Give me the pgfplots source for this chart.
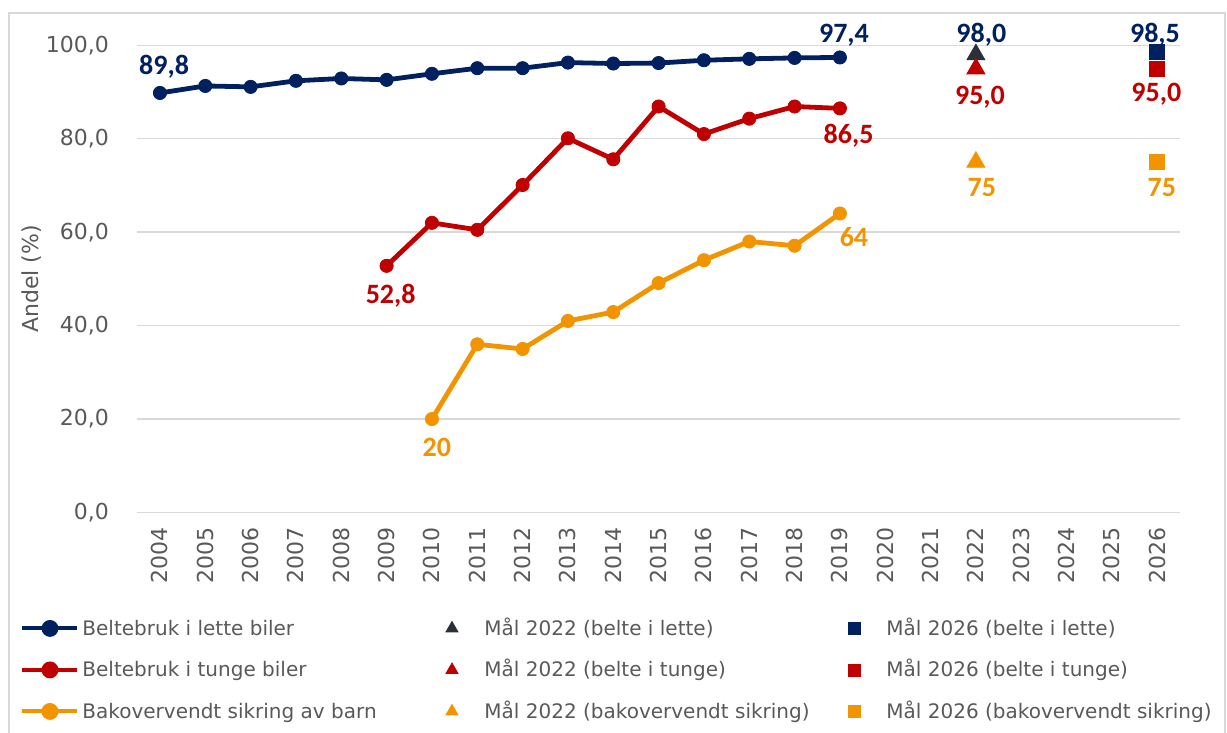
\documentclass[border=0pt]{standalone}
\usepackage{fontspec}
\setmainfont{DejaVu Sans}
\newfontfamily\lblfont{Carlito}
\usepackage{pgfplots}
\pgfplotsset{compat=1.18}
\definecolor{cnavy}{HTML}{002060}
\definecolor{cred}{HTML}{C00000}
\definecolor{corange}{HTML}{F29400}
\definecolor{cdark}{HTML}{2B3038}
\definecolor{cgrid}{HTML}{D9D9D9}
\definecolor{ctext}{HTML}{595959}
\pgfplotsset{
 linelegend/.style={legend image code/.code={
   \path[draw=none,fill=none] (0pt,-3pt) rectangle (30pt,10pt);
   \draw[line width=2pt,#1] (0pt,3.3pt) -- (27.5pt,3.3pt);
   \fill[#1] (13.75pt,3.3pt) circle (3pt);}},
 trilegend/.style={legend image code/.code={
   \path[draw=none,fill=none] (0pt,-3pt) rectangle (30pt,10pt);
   \fill[#1] (13.75pt,3.3pt) +(90:3.46pt) -- +(210:3.46pt) -- +(330:3.46pt) -- cycle;}},
 sqlegend/.style={legend image code/.code={
   \path[draw=none,fill=none] (0pt,-3pt) rectangle (30pt,10pt);
   \fill[#1] (10.75pt,0.3pt) rectangle (16.75pt,6.3pt);}},
}
\newcommand{\dl}[1]{{\lblfont\bfseries\fontsize{14}{16}\selectfont #1}}
\begin{document}
\begin{tikzpicture}
\useasboundingbox (0pt,0pt) rectangle (613.5pt,-366.5pt);
\draw[cgrid, line width=0.75pt] (4.5pt,-372pt) -- (4.5pt,-6.5pt) -- (612.5pt,-6.5pt) -- (612.5pt,-372pt);
\begin{axis}[
 at={(68.65pt,-256.25pt)}, anchor=south west,
 scale only axis, width=521.3pt, height=233.6pt,
 xmin=2003.5, xmax=2026.5, ymin=0, ymax=100,
 clip=false,
 axis line style={draw=none},
 major tick length=0pt, tick style={draw=none},
 ymajorgrids, grid style={cgrid, line width=0.75pt},
 xtick={2004,2005,...,2026}, ytick={0,20,...,100},
 xticklabel style={/pgf/number format/1000 sep={}, /pgf/number format/assume math mode=true,
   font=\fontsize{11}{13}\selectfont, color=ctext, yshift=-7.5pt, rotate=90, anchor=east, inner sep=0pt},
 yticklabel style={/pgf/number format/.cd, fixed, fixed zerofill, precision=1, use comma, assume math mode=true, /tikz/.cd,
   font=\fontsize{11}{13}\selectfont, color=ctext, anchor=east, inner sep=0pt, xshift=-14pt},
 ylabel={Andel (\%)},
 every axis y label/.style={at={(axis description cs:-0.101,0.5)}, rotate=90, anchor=center, font=\fontsize{11}{13}\selectfont, color=ctext},
 legend columns=3,
 legend style={at={(axis description cs:-0.11205,-0.2194)}, anchor=north west, draw=none, fill=none,
   inner sep=0pt, outer sep=0pt, row sep=7.75pt, column sep=0pt,
   font=\fontsize{10}{12}\selectfont, text=ctext, cells={anchor=base west}, nodes={inner sep=0pt}},
]
\addplot[cnavy, line width=2.4pt, mark=*, mark size=3.3pt, mark options={line width=0.4pt}, linelegend=cnavy] coordinates {
 (2004,89.8)(2005,91.3)(2006,91.1)(2007,92.4)(2008,92.9)(2009,92.6)(2010,93.9)(2011,95.1)
 (2012,95.1)(2013,96.3)(2014,96.1)(2015,96.2)(2016,96.8)(2017,97.1)(2018,97.3)(2019,97.4)};
\addlegendentry{\makebox[171pt][l]{Beltebruk i lette biler}}
\addplot[only marks, mark=triangle*, mark size=5.2pt, cdark, trilegend=cdark] coordinates {(2022,98.0)};
\addlegendentry{\makebox[171pt][l]{Mål 2022 (belte i lette)}}
\addplot[only marks, mark=square*, mark size=3.75pt, cnavy, sqlegend=cnavy] coordinates {(2026,98.5)};
\addlegendentry{Mål 2026 (belte i lette)}
\addplot[cred, line width=2.4pt, mark=*, mark size=3.3pt, mark options={line width=0.4pt}, linelegend=cred] coordinates {
 (2009,52.8)(2010,62.0)(2011,60.5)(2012,70.1)(2013,80.1)(2014,75.6)(2015,86.9)(2016,81.0)
 (2017,84.3)(2018,86.9)(2019,86.5)};
\addlegendentry{\makebox[171pt][l]{Beltebruk i tunge biler}}
\addplot[only marks, mark=triangle*, mark size=5.2pt, cred, trilegend=cred] coordinates {(2022,95.0)};
\addlegendentry{\makebox[171pt][l]{Mål 2022 (belte i tunge)}}
\addplot[only marks, mark=square*, mark size=3.75pt, cred, sqlegend=cred] coordinates {(2026,95.0)};
\addlegendentry{Mål 2026 (belte i tunge)}
\addplot[corange, line width=2.4pt, mark=*, mark size=3.3pt, mark options={line width=0.4pt}, linelegend=corange] coordinates {
 (2010,20.0)(2011,36.0)(2012,35.0)(2013,41.0)(2014,42.9)(2015,49.1)(2016,54.0)(2017,58.0)
 (2018,57.1)(2019,64.0)};
\addlegendentry{\makebox[171pt][l]{Bakovervendt sikring av barn}}
\addplot[only marks, mark=triangle*, mark size=5.2pt, corange, trilegend=corange] coordinates {(2022,75.0)};
\addlegendentry{\makebox[171pt][l]{Mål 2022 (bakovervendt sikring)}}
\addplot[only marks, mark=square*, mark size=3.75pt, corange, sqlegend=corange] coordinates {(2026,75.0)};
\addlegendentry{Mål 2026 (bakovervendt sikring)}

\node[anchor=base, text=cnavy] at (axis cs:2004.09,93.68) {\dl{89,8}};
\node[anchor=base, text=cnavy] at (axis cs:2019.09,100.53) {\dl{97,4}};
\node[anchor=base, text=cnavy] at (axis cs:2022.12,100.53) {\dl{98,0}};
\node[anchor=base, text=cnavy] at (axis cs:2025.95,100.53) {\dl{98,5}};
\node[anchor=base, text=cred] at (axis cs:2022.09,87.36) {\dl{95,0}};
\node[anchor=base, text=cred] at (axis cs:2025.98,88.0) {\dl{95,0}};
\node[anchor=base, text=cred] at (axis cs:2019.19,78.91) {\dl{86,5}};
\node[anchor=base, text=cred] at (axis cs:2009.09,44.77) {\dl{52,8}};
\node[anchor=base, text=corange] at (axis cs:2022.13,67.56) {\dl{75}};
\node[anchor=base, text=corange] at (axis cs:2026.10,67.56) {\dl{75}};
\node[anchor=base, text=corange] at (axis cs:2019.31,56.90) {\dl{64}};
\node[anchor=base, text=corange] at (axis cs:2010.11,11.91) {\dl{20}};
\end{axis}
\end{tikzpicture}
\end{document}
